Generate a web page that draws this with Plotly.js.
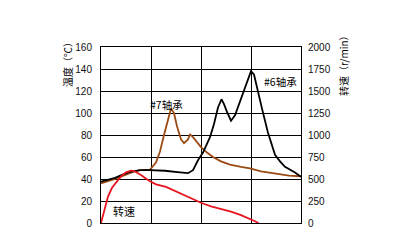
<!DOCTYPE html>
<html><head><meta charset="utf-8">
<script src="https://cdn.plot.ly/plotly-3.0.1.min.js"></script>
<style>html,body{margin:0;padding:0;background:#fff}#c{width:408px;height:244px}</style>
</head><body><div id="c"></div>
<script>
const xBearing6 = [0,0.14,0.28,0.54,0.78,0.98,1.28,1.58,1.74,1.84,1.94,2.04,2.18,2.26,2.34,2.41,2.46,2.52,2.6,2.68,2.76,2.88,2.96,3.0,3.06,3.14,3.22,3.34,3.48,3.58,3.68,3.88,4.0];
const tBearing6 = [37.5,39,41,46,48,48,47.5,46,45.3,48,57,64,78,90,105,112.5,108,101,93,98,108,123,134,138,135,118,104,82,62,56,51,46,42];
const xBearing7 = [0,0.14,0.28,0.5,0.66,0.8,0.98,1.1,1.18,1.26,1.34,1.4,1.46,1.52,1.6,1.66,1.74,1.78,1.84,1.92,2.0,2.12,2.24,2.4,2.58,2.8,2.98,3.2,3.5,3.76,4.0];
const tBearing7 = [36,38,40,44,47,48,48.5,55,65,80,94,104,100,88,76,72.5,76,80.5,78,73,69,64,60,56,53,51,49.7,47,44.5,43,42.5];
const xSpeed = [0,0.07,0.14,0.22,0.31,0.4,0.5,0.6,0.66,0.8,0.96,1.1,1.3,1.5,1.6,1.8,1.94,2.0,2.2,2.4,2.6,2.8,2.98,3.08,3.15];
const speed = [0,160,300,400,470,530,575,594,590,545,480,440,410,360,330,280,245,230,190,160,130,90,50,20,0];
const leftTicks = [0,20,40,60,80,100,120,140,160];
const rightTicks = [0,250,500,750,1000,1250,1500,1750,2000];

const cjk = '"Noto Sans CJK SC", sans-serif';
function ann(text, px, py, size, angle) {
  return {text:text, xref:'paper', yref:'paper', x:(px-101)/200, y:(223-py)/176,
          xanchor:'center', yanchor:'middle', showarrow:false, textangle:angle||0,
          font:{family:cjk, size:size, color:'#000'}};
}
const traces = [
  {x:xBearing7, y:tBearing7, mode:'lines', line:{color:'#9A4A12', width:1.8}, hoverinfo:'none'},
  {x:xBearing6, y:tBearing6, mode:'lines', line:{color:'#000000', width:1.8}, hoverinfo:'none'},
  {x:xSpeed, y:speed, yaxis:'y2', mode:'lines', line:{color:'#E8141E', width:1.8}, hoverinfo:'none'}
];
const layout = {
  width:408, height:244,
  margin:{l:101, r:107, t:47, b:21},
  paper_bgcolor:'#fff', plot_bgcolor:'#fff',
  showlegend:false,
  font:{family:'"Liberation Sans", Arial, sans-serif', size:10, color:'#111'},
  xaxis:{range:[0,4], dtick:1, showgrid:true, gridcolor:'#000', gridwidth:1, showticklabels:false, ticks:'', zeroline:false, showline:true, linecolor:'#000', linewidth:1, mirror:true, fixedrange:true},
  yaxis:{range:[0,160], tickvals:leftTicks, showgrid:true, gridcolor:'#000', gridwidth:1, zeroline:false, showline:true, linecolor:'#000', linewidth:1, ticks:'', ticklabelstandoff:6, fixedrange:true},
  yaxis2:{range:[0,2000], tickvals:rightTicks, overlaying:'y', side:'right', showgrid:false, zeroline:false, showline:true, linecolor:'#000', linewidth:1, ticks:'', ticklabelstandoff:4, fixedrange:true},
  annotations:[
    ann('#7轴承', 166, 104, 10.5),
    ann('#6轴承', 280, 81, 10.5),
    ann('转速', 124, 211, 11),
    ann('温度（℃）', 67, 62, 10, -90),
    ann('转速（r/min）', 343, 63, 10, -90)
  ]
};
Plotly.newPlot('c', traces, layout, {staticPlot:true, displayModeBar:false});
</script></body></html>
